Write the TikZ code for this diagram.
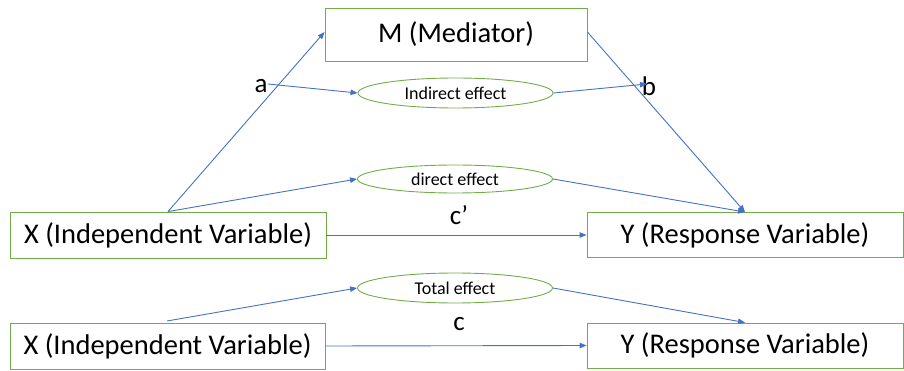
\documentclass[tikz,border=0pt]{standalone}
\usepackage{fontspec}
\setmainfont{Carlito}
\usetikzlibrary{arrows.meta,shapes.geometric}
\definecolor{boxgreen}{RGB}{112,173,71}
\definecolor{arrowblue}{RGB}{68,114,196}
\begin{document}
\begin{tikzpicture}[x=1pt,y=-1pt,
  varbox/.style={draw=boxgreen,line width=0.9pt,rectangle,inner sep=0pt,font=\fontsize{28.5}{32}\selectfont},
  effect/.style={draw=boxgreen,line width=0.9pt,ellipse,inner sep=0pt,minimum width=195pt,minimum height=30pt,font=\fontsize{18}{20}\selectfont},
  lbl/.style={inner sep=0pt,font=\fontsize{27}{30}\selectfont},
  conn/.style={draw=arrowblue,line width=0.9pt,-{Triangle[length=7pt,width=5.5pt]}}
]
\useasboundingbox (0,0) rectangle (904,371);
\node[varbox,minimum width=262pt,minimum height=53pt] (M) at (456,34.5) {M (Mediator)};
\node[varbox,minimum width=316pt,minimum height=46pt] (X1) at (168,235) {X (Independent Variable)};
\node[varbox,minimum width=316pt,minimum height=45pt] (Y1) at (745,235) {Y (Response Variable)};
\node[varbox,minimum width=315pt,minimum height=46pt] (X2) at (167.5,346) {X (Independent Variable)};
\node[varbox,minimum width=316pt,minimum height=45pt] (Y2) at (745,345.5) {Y (Response Variable)};
\node[effect] (ind) at (455.5,93) {Indirect effect};
\node[effect,minimum height=28pt] (dir) at (455,179) {direct effect};
\node[effect] (tot) at (455,288) {Total effect};
\node[lbl] (a) at (261,86) {a};
\node[lbl] (b) at (649,86) {b};
\node[lbl] (cp) at (459,215) {c’};
\node[lbl] (c) at (459,324) {c};
\coordinate (aout) at (268,84);
\coordinate (bend) at (647,84);
\coordinate (x2top) at (167,321);
\draw[conn] (X1.north) -- ([yshift=2.5pt]M.west);
\draw[conn] (X1.north) -- (dir.west);
\draw[conn] (dir.east) -- (Y1.north);
\draw[conn] ([yshift=2.5pt]M.east) -- (Y1.north);
\draw[conn] (X1.east) -- (Y1.west);
\draw[conn] (aout) -- (ind.west);
\draw[conn] (ind.east) -- (bend);
\draw[conn] (x2top) -- (tot.west);
\draw[conn] (tot.east) -- (Y2.north);
\draw[conn] (X2.east) -- (Y2.west);
\end{tikzpicture}
\end{document}
